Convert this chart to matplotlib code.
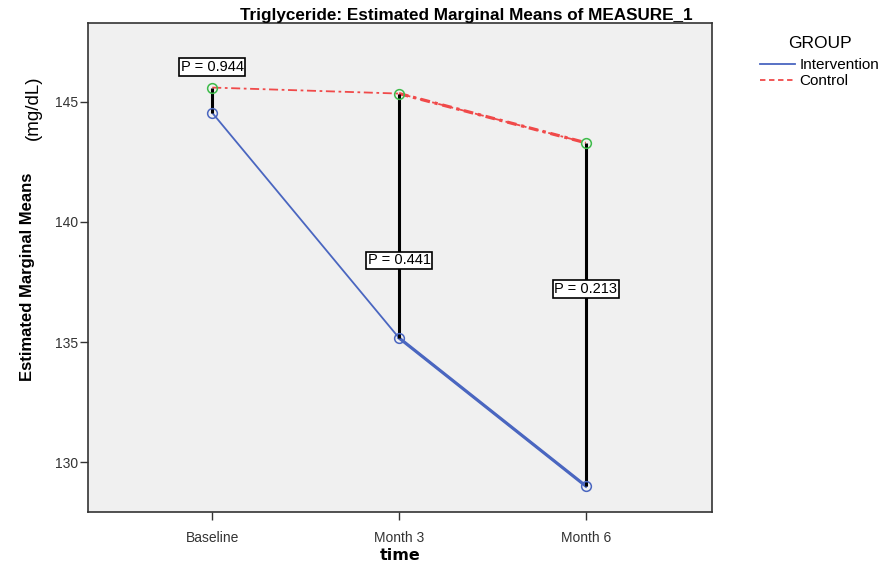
import numpy as np
import matplotlib.pyplot as plt
from matplotlib.lines import Line2D

# estimated marginal means of triglyceride (mg/dL)
tempos = ['Baseline', 'Month 3', 'Month 6']
intervencao = [144.55, 135.17, 129.0]
controle = [145.6, 145.35, 143.3]
p_valores = ['P = 0.944', 'P = 0.441', 'P = 0.213']
p_altura = [146.45, 138.4, 137.2]

x = np.arange(len(tempos))

fig = plt.figure(figsize=(8.85, 5.66), dpi=100)
ax = fig.add_axes([0.0994, 0.0954, 0.7051, 0.864])
ax.set_facecolor('#f0f0f0')

azul = '#4a66c0'
vermelho = '#f04a4a'
verde = '#3dbb4a'

# linhas dos grupos
ax.plot(x, intervencao, color=azul, lw=1.3, zorder=3)
ax.plot(x[1:], intervencao[1:], color=azul, lw=2.3, zorder=3)
ax.plot(x, controle, color=vermelho, lw=1.3, ls=(0, (5, 2, 1.5, 2)), zorder=3)
ax.plot(x[1:], controle[1:], color=vermelho, lw=2.3, ls=(0, (3, 1.5, 1, 1.5)), zorder=3)

# ligacao entre os grupos em cada tempo
ax.vlines(x, intervencao, controle, color='black', lw=2.2, zorder=4)

ax.plot(x, intervencao, ls='none', marker='o', ms=7, mfc='none', mec=azul, mew=1.1, zorder=5)
ax.plot(x, controle, ls='none', marker='o', ms=7, mfc='none', mec=verde, mew=1.1, zorder=5)

for xi, yi, txt in zip(x, p_altura, p_valores):
    ax.text(xi, yi, txt, ha='center', va='center', fontsize=10.5, family='Liberation Sans',
            bbox=dict(boxstyle='square,pad=0.12', fc='white', ec='black', lw=1.2), zorder=6)

ax.set_xlim(-0.665, 2.675)
ax.set_ylim(127.92, 148.29)
ax.set_xticks(x)
ax.set_xticklabels(tempos)
ax.set_yticks([130, 135, 140, 145])
ax.tick_params(direction='out', length=6, width=1, color='#333333', labelsize=10, labelcolor='#333333')
ax.tick_params(axis='x', pad=8)
ax.tick_params(axis='y', pad=1)
for lab in ax.get_xticklabels() + ax.get_yticklabels():
    lab.set_family('Liberation Sans')
for s in ax.spines.values():
    s.set_color('#333333')
    s.set_linewidth(1.2)

fig.text(0.452, 0.018, 'time', ha='center', va='center', fontsize=11.5, fontweight='bold')

fig.text(0.527, 0.972, 'Triglyceride: Estimated Marginal Means of MEASURE_1', ha='center', va='center',
         fontsize=12.3, fontweight='bold', family=['Liberation Sans', 'DejaVu Sans'])

fig.text(0.031, 0.511, 'Estimated Marginal Means', rotation=90, ha='center', va='center',
         fontsize=12, fontweight='bold', family=['Liberation Sans', 'DejaVu Sans'])
fig.text(0.038, 0.809, '(mg/dL)', rotation=90, ha='center', va='center',
         fontsize=13.5, family=['Liberation Sans', 'DejaVu Sans'])

# legenda
handles = [Line2D([], [], color=azul, lw=1.3),
           Line2D([], [], color=vermelho, lw=1.3, ls=(0, (3, 2)))]
leg = fig.legend(handles, ['Intervention', 'Control'], title='GROUP', loc='upper left',
                 bbox_to_anchor=(0.843, 0.96), frameon=False, handlelength=2.3,
                 handletextpad=0.3, labelspacing=0.12, prop={'family': 'Liberation Sans', 'size': 11})
leg.get_title().set_fontsize(12.5)
leg.get_title().set_family('Liberation Sans')
leg._legend_box.align = 'center'
leg._legend_box.sep = 5

fig.savefig('out.png', dpi=100)
